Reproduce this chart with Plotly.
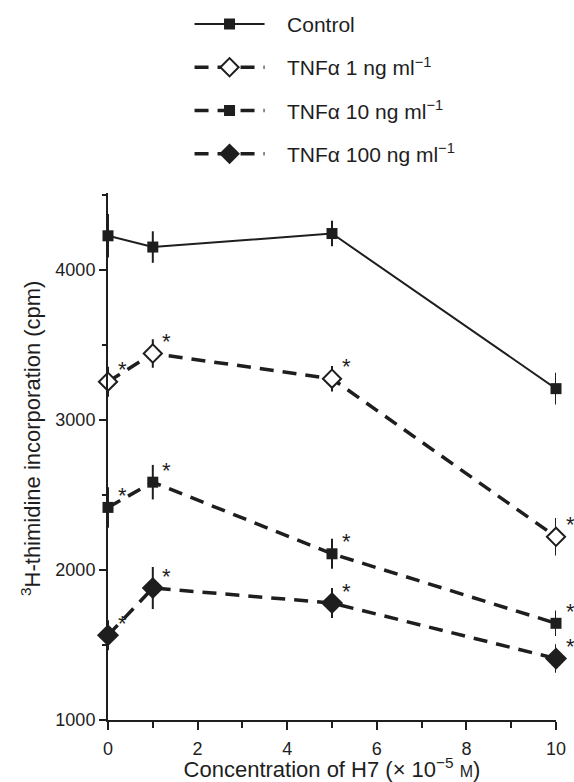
import plotly.graph_objects as go

# ---- data ----
h7_conc = [0, 1, 5, 10]

control = [4225, 4150, 4240, 3207]
control_err = [145, 105, 85, 105]

tnf1 = [3253, 3441, 3273, 2220]
tnf1_err = [100, 95, 85, 125]

tnf10 = [2416, 2584, 2107, 1644]
tnf10_err = [135, 115, 100, 85]

tnf100 = [1564, 1879, 1779, 1409]
tnf100_err = [100, 140, 100, 95]

series_names = [
    "Control",
    "TNFα 1 ng ml<sup>−1</sup>",
    "TNFα 10 ng ml<sup>−1</sup>",
    "TNFα 100 ng ml<sup>−1</sup>",
]
# series marked significant (asterisk at every point)
significant = [False, True, True, True]

x_tick_vals = [0, 2, 4, 6, 8, 10]
y_tick_vals = [1000, 2000, 3000, 4000]

# ---- styling ----
INK = "#1e1e1e"
FONT = "Liberation Sans, Arial, Helvetica, sans-serif"
PAD = "\u00a0\u00a0\u00a0"

values = [control, tnf1, tnf10, tnf100]
errors = [control_err, tnf1_err, tnf10_err, tnf100_err]
styles = [
    dict(symbol="square", size=11, color=INK, line=dict(color=INK, width=0), dash="solid", lw=2),
    dict(symbol="diamond", size=14, color="white", line=dict(color=INK, width=2), dash="14px,9px", lw=3.5),
    dict(symbol="square", size=11, color=INK, line=dict(color=INK, width=0), dash="14px,9px", lw=3.5),
    dict(symbol="diamond", size=17, color=INK, line=dict(color=INK, width=0), dash="14px,9px", lw=3.5),
]

fig = go.Figure()
for name, yv, ev, st in zip(series_names, values, errors, styles):
    fig.add_trace(go.Scatter(
        x=h7_conc, y=yv, name=PAD + name, mode="lines+markers",
        legendgroup=name,
        line=dict(color=INK, width=st["lw"], dash=st["dash"]),
        marker=dict(symbol=st["symbol"], size=st["size"], color=st["color"], line=st["line"]),
        error_y=dict(type="data", array=ev, visible=True, color=INK, thickness=2, width=0),
        cliponaxis=False,
    ))

annotations = []
for yv, sig in zip(values, significant):
    if not sig:
        continue
    for xv, v in zip(h7_conc, yv):
        annotations.append(dict(
            x=xv, y=v, xref="x", yref="y", text="*", showarrow=False,
            xshift=14, yshift=12, font=dict(family=FONT, size=22, color=INK),
        ))

# y-axis title placed as a rotated annotation (sits a little above the plot centre)
annotations.append(dict(
    x=-0.172, y=0.535, xref="paper", yref="paper", xanchor="center", yanchor="middle",
    text="<sup>3</sup>H-thimidine incorporation (cpm)", textangle=-90, showarrow=False,
    font=dict(family=FONT, size=22, color=INK),
))

fig.update_layout(
    width=574, height=782,
    margin=dict(l=108, r=18, t=193, b=62, autoexpand=False),
    paper_bgcolor="white", plot_bgcolor="white",
    font=dict(family=FONT, color=INK, size=18),
    showlegend=True,
    legend=dict(
        x=0.182, y=1.359, xanchor="left", yanchor="top",
        font=dict(family=FONT, size=21, color=INK),
        itemwidth=70, tracegroupgap=13, traceorder="grouped",
        bgcolor="rgba(0,0,0,0)",
    ),
    annotations=annotations,
    xaxis=dict(
        range=[0, 10], showline=True, linewidth=2, linecolor=INK,
        showgrid=False, zeroline=False,
        tickmode="array", tickvals=x_tick_vals,
        ticks="outside", ticklen=8, tickwidth=2, tickcolor=INK,
        ticklabelstandoff=3,
        minor=dict(ticks="outside", dtick=1, ticklen=6, tickwidth=2, tickcolor=INK),
        tickfont=dict(size=18),
        title=dict(text="Concentration of H7 (× 10<sup>−5</sup> <span style='font-size:16px'>M</span>)",
                   font=dict(size=22), standoff=9),
    ),
    yaxis=dict(
        range=[1000, 4510], showline=True, linewidth=2, linecolor=INK,
        showgrid=False, zeroline=False,
        tickmode="array", tickvals=y_tick_vals,
        ticks="outside", ticklen=7, tickwidth=2, tickcolor=INK,
        minor=dict(ticks="outside", dtick=500, ticklen=4, tickwidth=2, tickcolor=INK),
        tickfont=dict(size=18),
    ),
)

fig.write_html("out.html")
